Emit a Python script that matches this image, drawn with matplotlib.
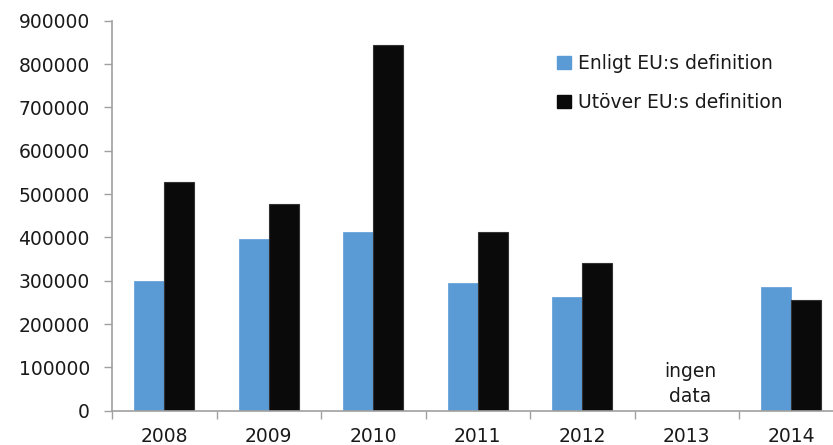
import matplotlib
matplotlib.use("Agg")
import matplotlib.pyplot as plt
import numpy as np
from matplotlib.patches import Patch

years = ["2008", "2009", "2010", "2011", "2012", "2013", "2014"]
enligt_eu = [300000, 396000, 413000, 295000, 263000, np.nan, 285000]
utover_eu = [528000, 477000, 844000, 413000, 341000, np.nan, 255000]
series_labels = ["Enligt EU:s definition", "Utöver EU:s definition"]
missing_label = "ingen\ndata"
yticks = list(range(0, 900001, 100000))

plt.rcParams['font.family'] = ['DejaVu Sans']
FS = 13.5

fig = plt.figure(figsize=(8.33, 4.45), dpi=100)
ax = fig.add_axes([112/833, 1 - 410.7/445, 731.5/833, 390/445])

x = np.arange(len(years))
w = 0.285
blue = "#5B9BD5"
black = "#0A0A0A"
ax.bar(x - w/2, enligt_eu, width=w, color=blue, edgecolor=blue, linewidth=0.5)
ax.bar(x + w/2, utover_eu, width=w, color=black, edgecolor="#333333", linewidth=0.8)

ax.set_xlim(-0.5, len(years) - 0.5)
ax.set_ylim(0, 900000)
ax.set_yticks(yticks)
ax.set_yticklabels([str(v) for v in yticks], fontsize=FS, color="#1a1a1a")
ax.set_xticks(x)
ax.set_xticklabels(years, fontsize=FS, color="#1a1a1a")
ax.set_xticks(np.arange(-0.5, len(years) - 0.5 + 0.01, 1), minor=True)
ax.tick_params(axis='x', which='major', length=0, pad=12)
ax.tick_params(axis='x', which='minor', length=6, color="#A0A0A0", width=1)
ax.tick_params(axis='y', which='major', length=6, color="#A0A0A0", width=1, pad=10)

for s in ["top", "right"]:
    ax.spines[s].set_visible(False)
for s in ["left", "bottom"]:
    ax.spines[s].set_color("#A0A0A0")
    ax.spines[s].set_linewidth(1.2)

i_missing = int(np.where(np.isnan(enligt_eu))[0][0])
ax.text(x[i_missing] + 0.03, 10000, missing_label, ha="center", va="bottom",
        fontsize=FS, color="#1a1a1a", linespacing=1.4)

handles = [Patch(facecolor=blue, edgecolor=blue), Patch(facecolor=black, edgecolor=black)]
leg = ax.legend(handles, series_labels, loc="upper left", bbox_to_anchor=(0.609, 0.914),
                frameon=False, fontsize=FS, handlelength=0.7, handleheight=0.7,
                handletextpad=0.4, labelspacing=1.05, borderpad=0, borderaxespad=0)
for t in leg.get_texts():
    t.set_color("#1a1a1a")

fig.savefig("out.png", dpi=100)
